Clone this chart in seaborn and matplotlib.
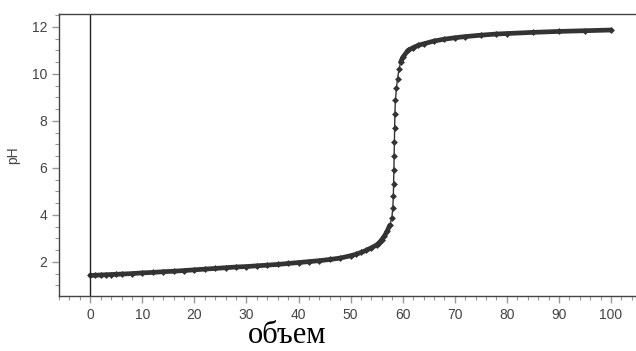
import numpy as np
import pandas as pd
import matplotlib
matplotlib.use('Agg')
import matplotlib.pyplot as plt
import seaborn as sns
from matplotlib.ticker import MultipleLocator

volume = [0, 1, 2, 3, 4, 5, 6, 8, 10, 12, 14, 16, 18, 20, 22, 24, 26, 28, 30,
          32, 34, 36, 38, 40, 42, 44, 46, 48, 50, 51, 52, 53, 54, 55, 55.5, 56,
          56.5, 57, 57.5, 57.9, 58.1, 58.2, 58.25, 58.3, 58.35, 58.4, 58.45,
          58.5, 58.6, 58.8, 59, 59.3, 59.6, 60, 61, 62, 63, 64, 66, 68, 70, 72,
          75, 78, 80, 85, 90, 95, 100]
ph = [1.42, 1.43, 1.44, 1.45, 1.46, 1.47, 1.48, 1.50, 1.53, 1.55, 1.58, 1.60,
      1.63, 1.66, 1.69, 1.72, 1.75, 1.78, 1.80, 1.83, 1.86, 1.89, 1.93, 1.97,
      2.01, 2.05, 2.10, 2.16, 2.26, 2.32, 2.40, 2.49, 2.60, 2.72, 2.82, 2.95,
      3.10, 3.30, 3.55, 3.85, 4.3, 4.8, 5.3, 5.9, 6.5, 7.1, 7.7, 8.3, 8.9, 9.4,
      9.8, 10.2, 10.5, 10.7, 11.0, 11.12, 11.22, 11.28, 11.40, 11.48, 11.54,
      11.59, 11.65, 11.70, 11.72, 11.77, 11.81, 11.84, 11.87]

df = pd.DataFrame({'объем': volume, 'pH': ph})
low = df[df['pH'] < 3.7]
high = df[df['pH'] > 10.3]

sns.set_style('white')
plt.rcParams['font.family'] = ['Liberation Sans', 'DejaVu Sans']

fig = plt.figure(figsize=(6.36, 3.51), dpi=100)
ax = fig.add_axes([0.0928, 0.157, 0.9072, 0.803])

# thin line with markers through every point, thick stroke on the flat parts
sns.lineplot(data=df, x='объем', y='pH', ax=ax, color='#333333', linewidth=1,
             marker='D', markersize=3.5, markeredgewidth=0, sort=False)
for part in [low, high]:
    sns.lineplot(data=part, x='объем', y='pH', ax=ax, color='#333333',
                 linewidth=3.4, sort=False, solid_capstyle='round')
ax.axvline(0, color='#222222', linewidth=1)

ax.set_xlim(-6, 104.8)
ax.set_ylim(0.55, 12.55)
ax.xaxis.set_major_locator(MultipleLocator(10))
ax.xaxis.set_minor_locator(MultipleLocator(2))
ax.yaxis.set_major_locator(MultipleLocator(2))
ax.yaxis.set_minor_locator(MultipleLocator(0.5))
ax.tick_params(which='both', direction='out', color='#999999', labelcolor='#444444',
               labelsize=10, bottom=True, left=True)
ax.tick_params(which='major', length=5, width=1)
ax.tick_params(which='minor', length=3, width=0.8)

for side in ['left', 'bottom', 'top']:
    ax.spines[side].set_color('#444444')
    ax.spines[side].set_linewidth(1)
ax.spines['right'].set_visible(False)

ax.set_xlabel('')
ax.set_ylabel('pH', fontsize=10, color='#444444', labelpad=8)
fig.text(0.451, 0.022, 'объем', fontsize=22, family='Liberation Serif',
         ha='center', va='baseline', color='black')

fig.savefig('out.png', dpi=100, facecolor='white')
